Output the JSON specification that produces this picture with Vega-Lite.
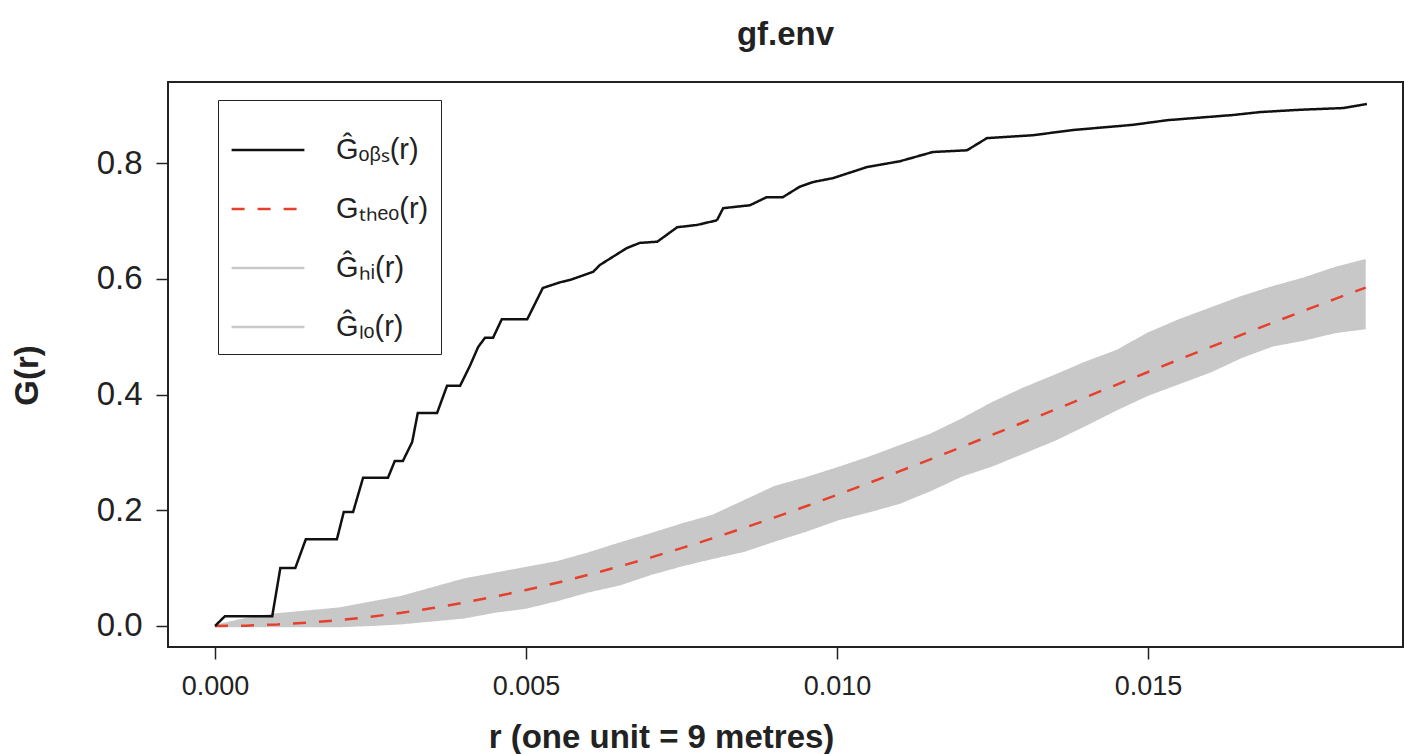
{
  "$schema": "https://vega.github.io/schema/vega-lite/v6.json",
  "width": 1235,
  "height": 565,
  "autosize": {"type": "none"},
  "padding": {"left": 168, "top": 82, "right": 2, "bottom": 107},
  "background": "white",
  "title": {"text": "gf.env", "fontSize": 33, "font": "Liberation Sans", "fontWeight": "bold", "offset": 30, "anchor": "middle", "color": "#222"},
  "config": {
    "view": {"stroke": "#222", "strokeWidth": 2},
    "axis": {"domain": false, "grid": false, "tickColor": "#222", "tickWidth": 1.5, "tickSize": 12, "labelFont": "Liberation Sans", "labelColor": "#222", "titleFont": "Liberation Sans", "titleFontSize": 33, "titleFontWeight": "bold", "titleColor": "#222"},
    "legend": {"orient": "none", "legendX": 50, "legendY": 18, "strokeColor": "#222", "fillColor": "white", "padding": 12, "symbolType": "stroke", "symbolSize": 5300, "symbolStrokeWidth": 2.5, "labelFontSize": 29, "labelFont": "Liberation Sans", "labelColor": "#222", "labelOffset": 30, "rowPadding": 6, "labelLimit": 300, "title": null}
  },
  "datasets": {
    "env": [
      {"r": 0.0, "theo": 0.0, "hi": 0.0, "lo": 0.0},
      {"r": 0.0005, "theo": 0.0006, "hi": 0.012, "lo": 0.0},
      {"r": 0.001, "theo": 0.0026, "hi": 0.02, "lo": 0.0},
      {"r": 0.0015, "theo": 0.0058, "hi": 0.025, "lo": 0.0},
      {"r": 0.002, "theo": 0.0102, "hi": 0.03, "lo": 0.0},
      {"r": 0.0025, "theo": 0.0159, "hi": 0.04, "lo": 0.002},
      {"r": 0.003, "theo": 0.0228, "hi": 0.05, "lo": 0.005},
      {"r": 0.0035, "theo": 0.031, "hi": 0.065, "lo": 0.01},
      {"r": 0.004, "theo": 0.0403, "hi": 0.08, "lo": 0.015},
      {"r": 0.0045, "theo": 0.0507, "hi": 0.09, "lo": 0.025},
      {"r": 0.005, "theo": 0.0622, "hi": 0.1, "lo": 0.032},
      {"r": 0.0055, "theo": 0.0747, "hi": 0.11, "lo": 0.045},
      {"r": 0.006, "theo": 0.0883, "hi": 0.125, "lo": 0.06},
      {"r": 0.0065, "theo": 0.1028, "hi": 0.142, "lo": 0.072},
      {"r": 0.007, "theo": 0.1182, "hi": 0.158, "lo": 0.09},
      {"r": 0.0075, "theo": 0.1345, "hi": 0.175, "lo": 0.105},
      {"r": 0.008, "theo": 0.1516, "hi": 0.19, "lo": 0.118},
      {"r": 0.0085, "theo": 0.1693, "hi": 0.215, "lo": 0.13},
      {"r": 0.009, "theo": 0.1878, "hi": 0.24, "lo": 0.148},
      {"r": 0.0095, "theo": 0.2069, "hi": 0.255, "lo": 0.165},
      {"r": 0.01, "theo": 0.2265, "hi": 0.272, "lo": 0.184},
      {"r": 0.0105, "theo": 0.2466, "hi": 0.29, "lo": 0.198},
      {"r": 0.011, "theo": 0.2671, "hi": 0.31, "lo": 0.213},
      {"r": 0.0115, "theo": 0.2879, "hi": 0.33, "lo": 0.235},
      {"r": 0.012, "theo": 0.3091, "hi": 0.356, "lo": 0.26},
      {"r": 0.0125, "theo": 0.3305, "hi": 0.385, "lo": 0.278},
      {"r": 0.013, "theo": 0.352, "hi": 0.41, "lo": 0.3},
      {"r": 0.0135, "theo": 0.3737, "hi": 0.432, "lo": 0.322},
      {"r": 0.014, "theo": 0.3955, "hi": 0.455, "lo": 0.348},
      {"r": 0.0145, "theo": 0.4172, "hi": 0.475, "lo": 0.375},
      {"r": 0.015, "theo": 0.4389, "hi": 0.505, "lo": 0.4},
      {"r": 0.0155, "theo": 0.4605, "hi": 0.528, "lo": 0.42},
      {"r": 0.016, "theo": 0.4818, "hi": 0.548, "lo": 0.44},
      {"r": 0.0165, "theo": 0.503, "hi": 0.568, "lo": 0.465},
      {"r": 0.017, "theo": 0.5239, "hi": 0.585, "lo": 0.485},
      {"r": 0.0175, "theo": 0.5445, "hi": 0.6, "lo": 0.495},
      {"r": 0.018, "theo": 0.5649, "hi": 0.618, "lo": 0.508},
      {"r": 0.0185, "theo": 0.5848, "hi": 0.632, "lo": 0.515}
    ],
    "obs": [
      {"series": "obs", "r": 0.0, "G": 0.0},
      {"series": "obs", "r": 0.00016, "G": 0.017},
      {"series": "obs", "r": 0.00092, "G": 0.017},
      {"series": "obs", "r": 0.00105, "G": 0.1},
      {"series": "obs", "r": 0.00129, "G": 0.1},
      {"series": "obs", "r": 0.00146, "G": 0.15},
      {"series": "obs", "r": 0.00196, "G": 0.15},
      {"series": "obs", "r": 0.00207, "G": 0.197},
      {"series": "obs", "r": 0.00222, "G": 0.197},
      {"series": "obs", "r": 0.00238, "G": 0.256},
      {"series": "obs", "r": 0.00278, "G": 0.256},
      {"series": "obs", "r": 0.00289, "G": 0.285},
      {"series": "obs", "r": 0.00302, "G": 0.285},
      {"series": "obs", "r": 0.00317, "G": 0.318},
      {"series": "obs", "r": 0.00326, "G": 0.368},
      {"series": "obs", "r": 0.00357, "G": 0.368},
      {"series": "obs", "r": 0.00373, "G": 0.415},
      {"series": "obs", "r": 0.00394, "G": 0.415},
      {"series": "obs", "r": 0.0041, "G": 0.45},
      {"series": "obs", "r": 0.00423, "G": 0.482},
      {"series": "obs", "r": 0.00434, "G": 0.498},
      {"series": "obs", "r": 0.00447, "G": 0.498},
      {"series": "obs", "r": 0.00461, "G": 0.53},
      {"series": "obs", "r": 0.00502, "G": 0.53},
      {"series": "obs", "r": 0.00527, "G": 0.584},
      {"series": "obs", "r": 0.00555, "G": 0.594},
      {"series": "obs", "r": 0.00571, "G": 0.598},
      {"series": "obs", "r": 0.00608, "G": 0.612},
      {"series": "obs", "r": 0.00619, "G": 0.624},
      {"series": "obs", "r": 0.00662, "G": 0.653},
      {"series": "obs", "r": 0.00683, "G": 0.662},
      {"series": "obs", "r": 0.00711, "G": 0.664},
      {"series": "obs", "r": 0.00743, "G": 0.689},
      {"series": "obs", "r": 0.00775, "G": 0.693},
      {"series": "obs", "r": 0.00807, "G": 0.701},
      {"series": "obs", "r": 0.00817, "G": 0.722},
      {"series": "obs", "r": 0.0086, "G": 0.727},
      {"series": "obs", "r": 0.00887, "G": 0.741},
      {"series": "obs", "r": 0.00913, "G": 0.741},
      {"series": "obs", "r": 0.0094, "G": 0.759},
      {"series": "obs", "r": 0.00961, "G": 0.767},
      {"series": "obs", "r": 0.00994, "G": 0.774},
      {"series": "obs", "r": 0.01048, "G": 0.793},
      {"series": "obs", "r": 0.01101, "G": 0.803},
      {"series": "obs", "r": 0.01154, "G": 0.819},
      {"series": "obs", "r": 0.01209, "G": 0.822},
      {"series": "obs", "r": 0.01241, "G": 0.843},
      {"series": "obs", "r": 0.01315, "G": 0.848},
      {"series": "obs", "r": 0.01379, "G": 0.857},
      {"series": "obs", "r": 0.01476, "G": 0.866},
      {"series": "obs", "r": 0.01531, "G": 0.874},
      {"series": "obs", "r": 0.01637, "G": 0.883},
      {"series": "obs", "r": 0.0168, "G": 0.888},
      {"series": "obs", "r": 0.01744, "G": 0.892},
      {"series": "obs", "r": 0.01814, "G": 0.895},
      {"series": "obs", "r": 0.01852, "G": 0.902}
    ]
  },
  "layer": [
    {
      "data": {"name": "env"},
      "mark": {"type": "area", "color": "#c8c8c8", "opacity": 1},
      "encoding": {
        "x": {"field": "r", "type": "quantitative", "scale": {"domain": [-0.000756, 0.0191], "nice": false, "zero": false},
          "axis": {"values": [0, 0.005, 0.01, 0.015], "format": ".3f", "labelFontSize": 27, "labelPadding": 14, "title": "r (one unit = 9 metres)", "titleX": 493, "titleY": 100, "titleBaseline": "alphabetic", "titleAlign": "center", "titleAnchor": null}},
        "y": {"field": "lo", "type": "quantitative", "scale": {"domain": [-0.0363, 0.94], "nice": false, "zero": false},
          "axis": {"values": [0, 0.2, 0.4, 0.6, 0.8], "format": ".1f", "labelFontSize": 33, "labelPadding": 14, "title": "G(r)", "titleX": -131, "titleY": 293, "titleAngle": -90, "titleAlign": "center", "titleBaseline": "alphabetic", "titleAnchor": null}},
        "y2": {"field": "hi"}
      }
    },
    {
      "data": {"name": "env"},
      "transform": [{"fold": ["hi", "lo", "theo"], "as": ["series", "G"]}],
      "mark": {"type": "line", "strokeWidth": 2.5},
      "encoding": {
        "x": {"field": "r", "type": "quantitative"},
        "y": {"field": "G", "type": "quantitative"},
        "color": {"field": "series", "type": "nominal",
          "scale": {"domain": ["obs", "theo", "hi", "lo"], "range": ["#111111", "#e6402c", "#c8c8c8", "#c8c8c8"]},
          "legend": {"labelExpr": "{'obs':'Ĝₒᵦₛ(r)','theo':'Gₜₕₑₒ(r)','hi':'Ĝₕᵢ(r)','lo':'Ĝₗₒ(r)'}[datum.value]"}},
        "strokeDash": {"field": "series", "type": "nominal",
          "scale": {"domain": ["obs", "theo", "hi", "lo"], "range": [[1, 0], [13, 13], [1, 0], [1, 0]]},
          "legend": {"labelExpr": "{'obs':'Ĝₒᵦₛ(r)','theo':'Gₜₕₑₒ(r)','hi':'Ĝₕᵢ(r)','lo':'Ĝₗₒ(r)'}[datum.value]"}}
      }
    },
    {
      "data": {"name": "obs"},
      "mark": {"type": "line", "strokeWidth": 2.5},
      "encoding": {
        "x": {"field": "r", "type": "quantitative"},
        "y": {"field": "G", "type": "quantitative"},
        "color": {"field": "series", "type": "nominal"},
        "strokeDash": {"field": "series", "type": "nominal"}
      }
    }
  ]
}
